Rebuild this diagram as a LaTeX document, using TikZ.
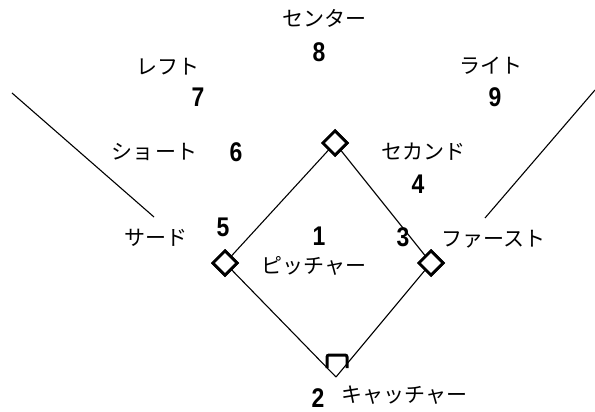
\documentclass[tikz,border=0pt]{standalone}
\usepackage{fontspec}
\setmainfont{Noto Sans CJK JP}
\newfontfamily\numfont{Liberation Sans}[FakeStretch=0.85]
\usetikzlibrary{positioning}

\begin{document}
\begin{tikzpicture}[
    x=1pt, y=-1pt,
    fielder/.style={font=\fontsize{21}{24}\selectfont, inner sep=0pt, anchor=west, text height=16pt, text depth=1pt},
    num/.style={font=\numfont\bfseries\fontsize{27}{28}\selectfont, inner sep=0pt},
    base/.style={rectangle, draw, fill=white, rotate=45, minimum size=17pt, line width=2.8pt, inner sep=0pt},
    line/.style={line width=1.1pt}
]
    \useasboundingbox (0,0) rectangle (595,412);

    % diamond
    \coordinate (home) at (336,377);
    \node[base] (first) at (431,263) {};
    \node[base] (second) at (335,143) {};
    \node[base] (third) at (225,263) {};
    \draw[line] (home) -- (first.center);
    \draw[line] (first.center) -- (second.center);
    \draw[line] (second.center) -- (third.center);
    \draw[line] (third.center) -- (home);
    \node[base] at (first) {};
    \node[base] at (second) {};
    \node[base] at (third) {};

    % home plate
    \draw[line width=3pt, rounded corners=2pt] (327,368) -- (327,355) -- (347,355) -- (347,368);

    % foul lines
    \coordinate (lf) at (12,93);
    \coordinate (lfend) at (154,217);
    \coordinate (rf) at (595,90);
    \coordinate (rfend) at (485,218);
    \draw[line] (lf) -- (lfend);
    \draw[line] (rf) -- (rfend);

    % positions
    \node[fielder] (center) at (282,19) {センター};
    \node[num] (n8) at (319,52) {8};
    \node[fielder] (left) at (136,67) {レフト};
    \node[num] (n7) at (198,97) {7};
    \node[fielder] (right) at (459,66) {ライト};
    \node[num] (n9) at (495,97) {9};
    \node[fielder] (short) at (111,152) {ショ\hspace{2pt}ート};
    \node[num] (n6) at (236,152) {6};
    \node[fielder] (secondb) at (381,152) {セカンド};
    \node[num] (n4) at (418,184) {4};
    \node[fielder] (thirdb) at (124,238) {サード};
    \node[num] (n5) at (223,227) {5};
    \node[num] (n1) at (319,236) {1};
    \node[fielder] (pitcher) at (261,266) {ピッチャー};
    \node[num] (n3) at (403,237) {3};
    \node[fielder] (firstb) at (441,239) {ファースト};
    \node[num] (n2) at (318,398) {2};
    \node[fielder] (catcher) at (341,395) {キャッチャー};
\end{tikzpicture}
\end{document}
